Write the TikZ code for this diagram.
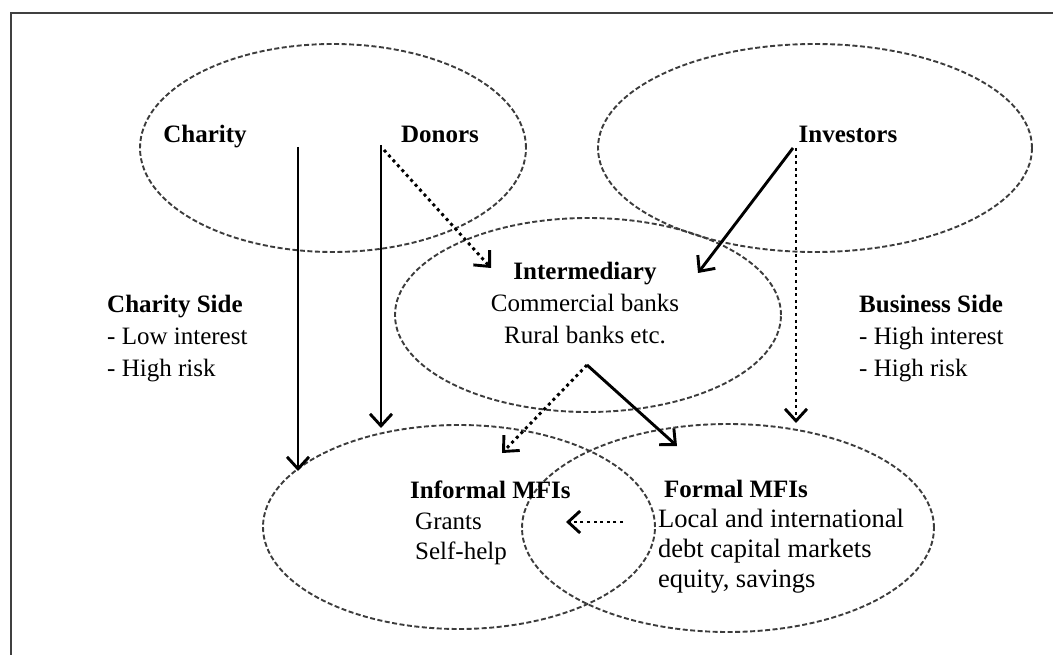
\documentclass[tikz,border=0pt]{standalone}
\usepackage{fontspec}
\setmainfont{Liberation Serif}
\usetikzlibrary{arrows.meta,shapes.geometric}
\definecolor{zonegray}{HTML}{3C3C3C}
\definecolor{framegray}{HTML}{404040}

\begin{document}
\begin{tikzpicture}[x=1pt,y=-1pt,
  zone/.style={draw=zonegray, ellipse, line width=1.9pt, dash pattern=on 5pt off 2.5pt, inner sep=0pt},
  flow/.style={line width=2.9pt, -{Straight Barb[length=12pt,width=22pt]}},
  soft/.style={flow, dash pattern=on 3pt off 3.6pt},
  lbl/.style={inner sep=0pt, font=\fontsize{25}{32}\selectfont},
  head/.style={inner sep=0pt, font=\fontsize{25}{32}\selectfont\bfseries},
]
\useasboundingbox (0,0) rectangle (1053,655);

% frame
\draw[framegray, line width=2.6pt] (11,655) -- (11,13) -- (1053,13);

% zones
\node[zone, minimum width=386pt, minimum height=208pt] (giving) at (333,148) {};
\node[zone, minimum width=434pt, minimum height=208pt] (market) at (815,148) {};
\node[zone, minimum width=386pt, minimum height=194pt] (mid) at (588,315) {};
\node[zone, minimum width=392pt, minimum height=204pt] (informal) at (459,527) {};
\node[zone, minimum width=412pt, minimum height=208pt] (formal) at (728,528) {};

% labels
\node[head] (charity) at (205,137) {Charity};
\node[head] (donors) at (440,134) {Donors};
\node[head] (investors) at (848,134) {Investors};
\node[lbl, align=center] (midtext) at (585,303) {\textbf{Intermediary}\\Commercial banks\\Rural banks etc.};
\node[lbl, align=left, anchor=west] (charityside) at (107,339) {\textbf{Charity Side}\\- Low interest\\- High risk};
\node[lbl, align=left, anchor=west] (businessside) at (859,339) {\textbf{Business Side}\\- High interest\\- High risk};
\node[lbl, align=left, anchor=west, font=\fontsize{25}{30.5}\selectfont] (informaltext) at (410,523) {\textbf{Informal MFIs}\\\hspace{5pt}Grants\\\hspace{5pt}Self-help};
\node[lbl, align=left, anchor=west, font=\fontsize{26.5}{30}\selectfont] (formaltext) at (658,537) {\hspace{6pt}{\fontsize{25}{30}\selectfont\textbf{Formal MFIs}}\\Local and international\\debt capital markets\\equity, savings};

% arrow end points
\coordinate (charityTop) at (298,147);
\coordinate (charityEnd) at (298,471);
\coordinate (donorsTop) at (381,145);
\coordinate (donorsEnd) at (381,428);
\coordinate (donorsDot) at (384,150);
\coordinate (midIn) at (491,268);
\coordinate (investTop) at (793,148);
\coordinate (investIn) at (698,273);
\coordinate (investDot) at (796,148);
\coordinate (investEnd) at (796,423);
\coordinate (midOut) at (587,365);
\coordinate (informalIn) at (502,453);
\coordinate (formalIn) at (677,446);
\coordinate (formalOut) at (623,522);
\coordinate (informalSide) at (566,522);

% flows
\draw[flow] (charityTop) -- (charityEnd);
\draw[flow] (donorsTop) -- (donorsEnd);
\draw[soft] (donorsDot) -- (midIn);
\draw[flow] (investTop) -- (investIn);
\draw[soft] (investDot) -- (investEnd);
\draw[soft] (midOut) -- (informalIn);
\draw[flow] (midOut) -- (formalIn);
\draw[soft] (formalOut) -- (informalSide);
\end{tikzpicture}
\end{document}
